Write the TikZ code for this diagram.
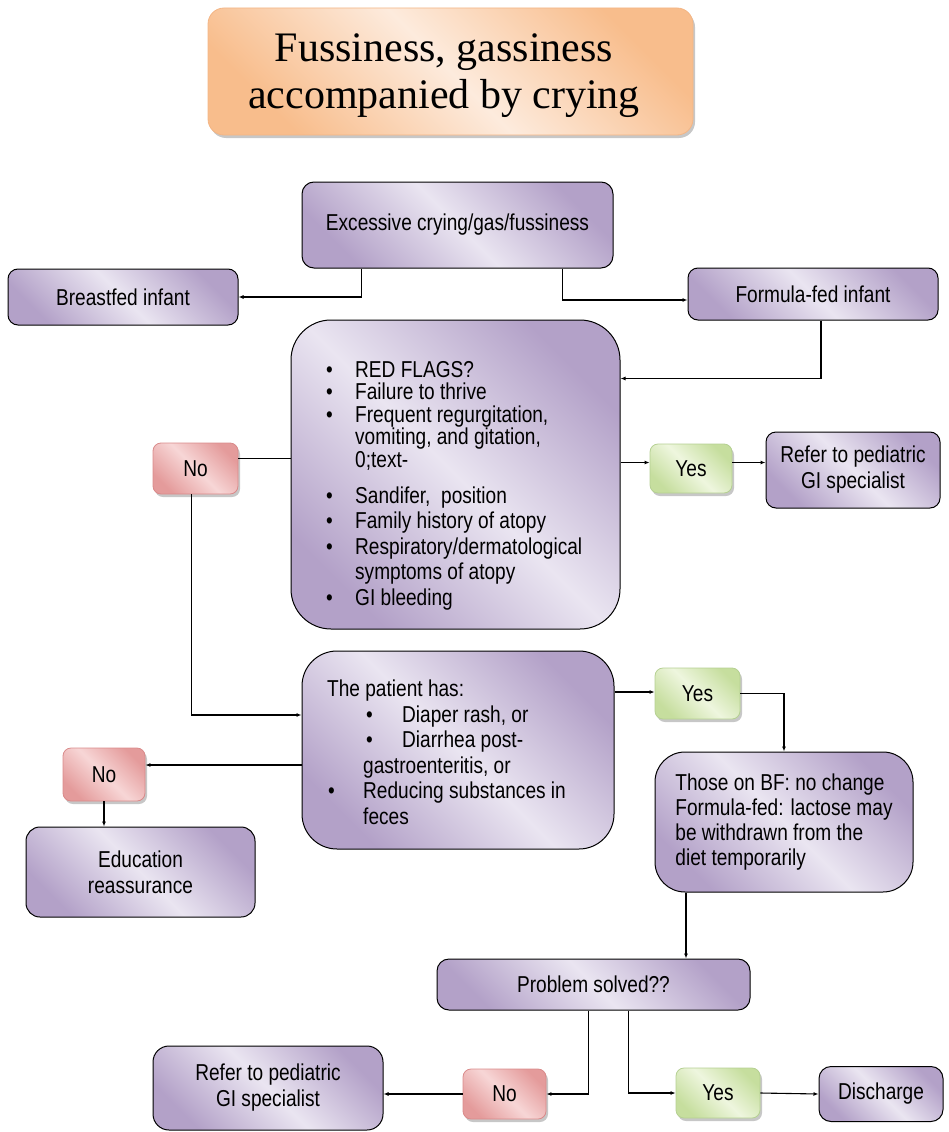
\documentclass[tikz,border=0pt]{standalone}
\usepackage{fontspec}
\setmainfont{Liberation Serif}
\setsansfont{Liberation Sans}[FakeStretch=0.83]
\usetikzlibrary{arrows.meta,shadows}
\definecolor{pD}{HTML}{B3A1C8}
\definecolor{pL}{HTML}{EAE5F1}
\definecolor{rD}{HTML}{E49B9B}
\definecolor{rL}{HTML}{F7D6D6}
\definecolor{rB}{HTML}{D98A8A}
\definecolor{gD}{HTML}{C6DE9E}
\definecolor{gL}{HTML}{EEF6DE}
\definecolor{gB}{HTML}{B5D092}
\definecolor{oD}{HTML}{F8BD8C}
\definecolor{oL}{HTML}{FDEBDD}
\definecolor{oB}{HTML}{F3B585}
\newcommand{\bfs}{\sffamily\fontsize{23}{25}\selectfont}
\newcommand{\bul}[1]{\makebox[#1][l]{\textbullet}}
\tikzset{
  box/.style={draw=black, line width=1pt, rounded corners=#1,
    top color=pD, bottom color=pD, middle color=pL, shading angle=-45,
    inner sep=0pt, align=center, font=\bfs},
  box/.default=12pt,
  nobox/.style={draw=rB, line width=0.8pt, rounded corners=8pt,
    top color=rD, bottom color=rD, middle color=rL, shading angle=-45,
    minimum width=84pt, minimum height=51pt, inner sep=0pt, font=\bfs,
    drop shadow={shadow xshift=2pt, shadow yshift=-3pt, fill=black, opacity=0.22}},
  yesbox/.style={draw=gB, line width=0.8pt, rounded corners=8pt,
    top color=gD, bottom color=gD, middle color=gL, shading angle=-45,
    minimum width=84pt, minimum height=50pt, inner sep=0pt, font=\bfs,
    drop shadow={shadow xshift=2pt, shadow yshift=-3pt, fill=black, opacity=0.22}},
  tbox/.style={draw=oB, line width=0.8pt, rounded corners=16pt,
    top color=oD, bottom color=oD, middle color=oL, shading angle=-45,
    inner sep=0pt,
    drop shadow={shadow xshift=2pt, shadow yshift=-3pt, fill=black, opacity=0.22}},
  ttext/.style={inner sep=0pt, align=center, font=\rmfamily\fontsize{42}{47}\selectfont},
  txt/.style={inner sep=0pt, align=left, font=\bfs},
  arr/.style={line width=1.1pt, -{Latex[length=5pt,width=4pt]}},
  plain/.style={line width=1.1pt}
}
\begin{document}
\begin{tikzpicture}[x=1pt,y=-1pt]
\useasboundingbox (0,0) rectangle (948,1132);

\node[tbox, minimum width=485pt, minimum height=127pt] (title) at (450.5,71.5) {};
\node[ttext] (titleText) at (444,76) {Fussiness, gassiness\\accompanied by crying};

\node[box, minimum width=311pt, minimum height=86pt] (exc) at (457.5,225) {Excessive crying/gas/fussiness};
\node[box=10pt, minimum width=230pt, minimum height=56pt] (bf) at (123,297) {Breastfed infant};
\node[box=10pt, minimum width=250pt, minimum height=52pt] (ff) at (813,294) {Formula-fed infant};

\node[box=40pt, minimum width=329pt, minimum height=309pt] (rf) at (455.5,474.5) {};
\node[txt, anchor=north west, font=\sffamily\fontsize{23}{22.5}\selectfont] (rfText) at (326,361) {%
\bul{29pt}RED FLAGS?\\
\bul{29pt}Failure to thrive\\
\bul{29pt}Frequent regurgitation,\\
\hspace*{29pt}vomiting, and gitation,\\
\hspace*{29pt}0;text-\\[13.5pt]
\bul{29pt}Sandifer,\ \ position\\[3pt]
\bul{29pt}Family history of atopy\\[3pt]
\bul{29pt}Respiratory/dermatological\\[3pt]
\hspace*{29pt}symptoms of atopy\\[3pt]
\bul{29pt}GI bleeding};

\node[nobox, minimum width=85pt] (no1) at (195.5,468.5) {No};
\node[yesbox, minimum width=82pt, minimum height=49pt] (yes1) at (691,468.5) {Yes};
\node[box=10pt, minimum width=174pt, minimum height=76pt, font=\sffamily\fontsize{23}{26}\selectfont] (ref1) at (853,470) {Refer to pediatric\\GI specialist};

\node[box=35pt, minimum width=312pt, minimum height=198pt] (pt) at (458,750) {};
\node[txt, anchor=north west, font=\sffamily\fontsize{23}{25.5}\selectfont] (ptText) at (327,680) {%
The patient has:\\
\hspace*{39pt}\bul{36pt}Diaper rash, or\\
\hspace*{39pt}\bul{36pt}Diarrhea post-\\
\hspace*{36pt}gastroenteritis, or\\
\hspace*{1pt}\bul{35pt}Reducing substances in\\
\hspace*{36pt}feces};

\node[yesbox, minimum width=85pt, minimum height=51pt] (yes2) at (697.5,693.5) {Yes};
\node[box=30pt, minimum width=258pt, minimum height=140pt, align=left, font=\sffamily\fontsize{23}{25}\selectfont] (those) at (784,822) {Those on BF: no change\\Formula-fed: lactose may\\be withdrawn from the\\diet temporarily};

\node[nobox, minimum width=82pt, minimum height=53pt] (no2) at (104,774.5) {No};
\node[box=14pt, minimum width=229pt, minimum height=90pt, font=\sffamily\fontsize{23}{26}\selectfont] (edu) at (140.5,872) {Education\\reassurance};

\node[box=12pt, minimum width=313pt, minimum height=51pt] (prob) at (593.5,984.5) {Problem solved??};
\node[nobox, minimum width=83pt, minimum height=50pt] (no3) at (504.5,1094) {No};
\node[yesbox, minimum width=84pt, minimum height=50pt] (yes3) at (718,1093) {Yes};
\node[box=12pt, minimum width=124pt, minimum height=55pt] (dis) at (881,1094) {Discharge};
\node[box=16pt, minimum width=230pt, minimum height=84pt, font=\sffamily\fontsize{23}{26}\selectfont] (ref2) at (268,1088) {Refer to pediatric\\GI specialist};

% connectors
\draw[arr] ([xshift=60pt]exc.south west) |- (bf.east);
\draw[arr] ([xshift=-51pt]exc.south east) |- ([yshift=-6pt]ff.west);
\draw[arr] ([xshift=8pt]ff.south) |- ([yshift=-59pt]rf.north east);
\draw[plain] ([yshift=10pt]no1.east) -- ([yshift=10pt]no1.east -| rf.west);
\draw[arr] ([yshift=12pt]rf.east) -- ([yshift=12pt]rf.east -| yes1.west);
\draw[arr] ([yshift=6pt]yes1.east) -- ([yshift=6pt]yes1.east -| ref1.west);
\draw[arr] ([xshift=-4pt]no1.south) |- ([yshift=35pt]pt.west);
\draw[arr] ([yshift=-15pt]pt.west) -- ([yshift=-15pt]pt.west -| no2.east);
\draw[arr] (no2.south) -- (no2.south |- edu.north);
\draw[arr] ([yshift=58pt]pt.east) -- ([yshift=58pt]pt.east -| yes2.west);
\draw[arr] (yes2.east) -| (those.north);
\draw[arr] ([xshift=-98pt]those.south) -- ([xshift=-98pt]those.south |- prob.north);
\draw[arr] ([xshift=-5pt]prob.south) |- (no3.east);
\draw[arr] ([xshift=35pt]prob.south) |- (yes3.west);
\draw[arr] (yes3.east) -- (dis.west);
\draw[arr] (no3.west) -- (no3.west -| ref2.east);
\end{tikzpicture}
\end{document}
